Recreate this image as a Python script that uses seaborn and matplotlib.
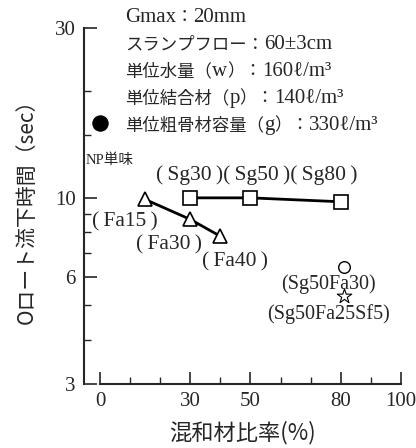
import matplotlib
matplotlib.use("Agg")
import matplotlib.pyplot as plt
import seaborn as sns
import pandas as pd
from matplotlib.ticker import FixedLocator, NullFormatter

# ---- data ----
np_x = [0]
np_y = [16.2]
fa_x = [15, 30, 40]
fa_y = [9.9, 8.7, 7.8]
sg_x = [30, 50, 80]
sg_y = [10.0, 10.0, 9.75]
sgfa_x = [81]
sgfa_y = [6.4]
sgfasf_x = [81]
sgfasf_y = [5.3]

x_ticks = [0, 30, 50, 80, 100]
x_minor = [10, 20, 40, 60, 70, 90]
y_ticks = [3, 6, 10, 30]
y_minor = [4, 5, 7, 8, 9, 15, 20]

info_lines = ["Gmax：20mm", "スランプフロー：60±3cm", "単位水量（w）：160ℓ/m³",
              "単位結合材（p）：140ℓ/m³", "単位粗骨材容量（g）：330ℓ/m³"]

sns.set_style("ticks")
SERIF = ['Liberation Serif', 'Noto Sans CJK JP', 'DejaVu Sans']
CJK = ['Noto Sans CJK JP', 'DejaVu Sans']
plt.rcParams['font.family'] = SERIF

W, H = 416, 448
fig = plt.figure(figsize=(W / 100, H / 100), dpi=100)
ax = fig.add_axes([84 / W, (H - 384) / H, (401 - 84) / W, (384 - 28) / H])

ax.set_yscale('log')
ax.set_xlim(-5.3, 100)
ax.set_ylim(3, 30)

df_fa = pd.DataFrame({'x': fa_x, 'y': fa_y})
df_sg = pd.DataFrame({'x': sg_x, 'y': sg_y})
sns.lineplot(data=df_fa, x='x', y='y', ax=ax, color='black', lw=2,
             marker='^', markersize=10, markerfacecolor='white',
             markeredgecolor='black', markeredgewidth=1.2)
sns.lineplot(data=df_sg, x='x', y='y', ax=ax, color='black', lw=2,
             marker='s', markersize=10, markerfacecolor='white',
             markeredgecolor='black', markeredgewidth=1.2)
sns.scatterplot(x=np_x, y=np_y, ax=ax, color='black', s=120, marker='o',
                edgecolor='black', zorder=5)
sns.scatterplot(x=sgfa_x, y=sgfa_y, ax=ax, facecolor='white', s=70,
                marker='o', edgecolor='black', linewidth=1.0, zorder=5)
sns.scatterplot(x=sgfasf_x, y=sgfasf_y, ax=ax, facecolor='white', s=120,
                marker='*', edgecolor='black', linewidth=0.8, zorder=5)

# spines
for s in ['top', 'right']:
    ax.spines[s].set_visible(False)
ax.spines['bottom'].set_bounds(0, 100)
ax.spines['left'].set_bounds(3, 30)
ax.spines['left'].set_linewidth(1.5)
ax.spines['bottom'].set_linewidth(1.5)

ax.xaxis.set_major_locator(FixedLocator(x_ticks))
ax.xaxis.set_minor_locator(FixedLocator(x_minor))
ax.set_xticklabels([str(v) for v in x_ticks])
ax.yaxis.set_major_locator(FixedLocator(y_ticks))
ax.yaxis.set_minor_locator(FixedLocator(y_minor))
ax.set_yticklabels([str(v) for v in y_ticks])
ax.yaxis.set_minor_formatter(NullFormatter())
ax.tick_params(axis='both', which='major', direction='in', length=9, width=1.2,
               labelsize=15, pad=6)
ax.tick_params(axis='both', which='minor', direction='in', length=5, width=1.0)
for lab in ax.get_xticklabels() + ax.get_yticklabels():
    lab.set_family(SERIF)

ax.set_xlabel('混和材比率(%)', family=CJK, fontsize=16, labelpad=7)
ax.set_ylabel('Oロート流下時間（sec）', family=CJK, fontsize=15, labelpad=12)
ax.set_facecolor('white')


def ptext(px, py, s, size=13, ha='left', family=SERIF):
    return fig.text(px / W, 1 - py / H, s, ha=ha, va='center', fontsize=size,
                    family=family)


def is_cjk(ch):
    return ord(ch) >= 0x2E80


def mixed_line(px, py, s, cjk_size=12.5, latin_size=15):
    renderer = fig.canvas.get_renderer()
    runs = []
    for ch in s:
        k = is_cjk(ch)
        if runs and runs[-1][0] == k:
            runs[-1][1] += ch
        else:
            runs.append([k, ch])
    x = px
    for k, txt in runs:
        t = ptext(x, py, txt, size=cjk_size if k else latin_size,
                  family=CJK if k else SERIF)
        bb = t.get_window_extent(renderer=renderer)
        x += bb.width


for i, line in enumerate(info_lines):
    mixed_line(125, 17 + i * 27.2, line)

ptext(86, 160, 'NP単味', size=10.5, family=['Liberation Serif', 'Noto Sans CJK JP'])
ptext(156, 175, '(\u2009Sg30\u2009)(\u2009Sg50\u2009)(\u2009Sg80\u2009)', size=15.5)
ptext(92, 222, '(\u2009Fa15\u2009)', size=15.5)
ptext(136, 245, '(\u2009Fa30\u2009)', size=15.5)
ptext(202, 262, '(\u2009Fa40\u2009)', size=15.5)
ptext(328, 284, '(Sg50Fa30)', size=14.5, ha='center')
ptext(329, 314, '(Sg50Fa25Sf5)', size=14.5, ha='center')

fig.savefig('out.png', dpi=100, facecolor='white')
